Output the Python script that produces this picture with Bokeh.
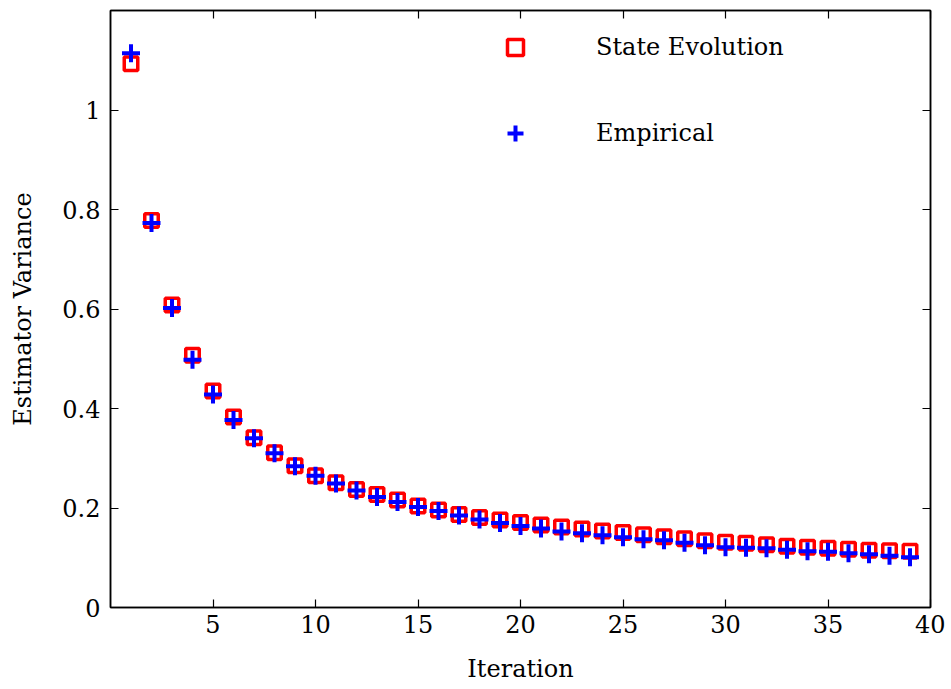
from bokeh.plotting import figure
from bokeh.models import Range1d, LinearAxis, FixedTicker, Legend, LegendItem, ColumnDataSource
from bokeh.embed import file_html
from bokeh.resources import INLINE

# ---- data ----
iterations = list(range(1, 40))
state_evolution = [1.093, 0.778, 0.608, 0.507, 0.435, 0.383, 0.341, 0.311, 0.285, 0.265,
                   0.251, 0.237, 0.227, 0.216, 0.204, 0.196, 0.187, 0.181, 0.176, 0.171,
                   0.166, 0.162, 0.158, 0.154, 0.151, 0.146, 0.142, 0.138, 0.134, 0.131,
                   0.129, 0.126, 0.123, 0.121, 0.119, 0.117, 0.115, 0.114, 0.113]
empirical = [1.114, 0.773, 0.602, 0.498, 0.428, 0.377, 0.340, 0.310, 0.284, 0.265,
             0.249, 0.235, 0.222, 0.212, 0.202, 0.194, 0.185, 0.177, 0.170, 0.164,
             0.159, 0.153, 0.149, 0.145, 0.141, 0.137, 0.135, 0.130, 0.125, 0.121,
             0.120, 0.119, 0.116, 0.113, 0.112, 0.109, 0.107, 0.104, 0.101]
x_ticks = [5, 10, 15, 20, 25, 30, 35, 40]
y_ticks = [0.0, 0.2, 0.4, 0.6, 0.8, 1.0]
y_tick_labels = ["0", "0.2", "0.4", "0.6", "0.8", "1"]
series_names = ["State Evolution", "Empirical"]

FONT = "DejaVu Serif"
FS = "24px"

src = ColumnDataSource(dict(x=iterations, se=state_evolution, emp=empirical))

p = figure(width=945, height=689, output_backend="svg", toolbar_location=None,
           x_range=Range1d(0, 40), y_range=Range1d(0, 1.2),
           min_border_left=110, min_border_right=15, min_border_top=10, min_border_bottom=82)

p.xgrid.visible = False
p.ygrid.visible = False
p.outline_line_color = "black"
p.outline_line_width = 1.5
p.background_fill_color = "white"
p.border_fill_color = "white"

r1 = p.scatter("x", "se", source=src, marker="square", size=13.5, line_width=3.5,
               line_color="#ff0000", fill_color=None)
r2 = p.scatter("x", "emp", source=src, marker="cross", size=18, line_width=4,
               line_color="#0000ff")

def style_axis(ax, labels=True):
    ax.axis_line_color = "black"
    ax.axis_line_width = 1.5
    ax.major_tick_in = 8
    ax.major_tick_out = 0
    ax.minor_tick_line_color = None
    ax.major_tick_line_color = "black"
    ax.major_tick_line_width = 1.2
    if labels:
        ax.major_label_text_font = FONT
        ax.major_label_text_font_size = FS
        ax.major_label_text_color = "black"
        ax.axis_label_text_font = FONT
        ax.axis_label_text_font_size = FS
        ax.axis_label_text_font_style = "normal"
        ax.axis_label_text_color = "black"
    else:
        ax.major_label_text_font_size = "0px"
        ax.major_label_text_color = None
        ax.major_label_standoff = 0

xa = p.xaxis[0]
ya = p.yaxis[0]
xa.ticker = FixedTicker(ticks=x_ticks)
ya.ticker = FixedTicker(ticks=y_ticks)
ya.major_label_overrides = {t: l for t, l in zip(y_ticks, y_tick_labels)}
style_axis(xa)
style_axis(ya)
xa.axis_label = "Iteration"
ya.axis_label = "Estimator Variance"
xa.major_label_standoff = 7
xa.axis_label_standoff = 19
ya.major_label_standoff = 10
ya.axis_label_standoff = 22

top = LinearAxis(ticker=FixedTicker(ticks=x_ticks))
right = LinearAxis(ticker=FixedTicker(ticks=y_ticks))
style_axis(top, labels=False)
style_axis(right, labels=False)
p.add_layout(top, "above")
p.add_layout(right, "right")

legend = Legend(items=[LegendItem(label=series_names[0], renderers=[r1]),
                       LegendItem(label=series_names[1], renderers=[r2])],
                location=(385, 454), orientation="vertical",
                glyph_width=40, glyph_height=40, label_height=40,
                spacing=46, padding=0, margin=0, label_standoff=61,
                border_line_color=None, background_fill_alpha=0,
                label_text_font=FONT, label_text_font_size=FS,
                label_text_color="black", label_text_baseline="middle")
p.add_layout(legend, "center")

open("out.html", "w").write(file_html(p, INLINE))
